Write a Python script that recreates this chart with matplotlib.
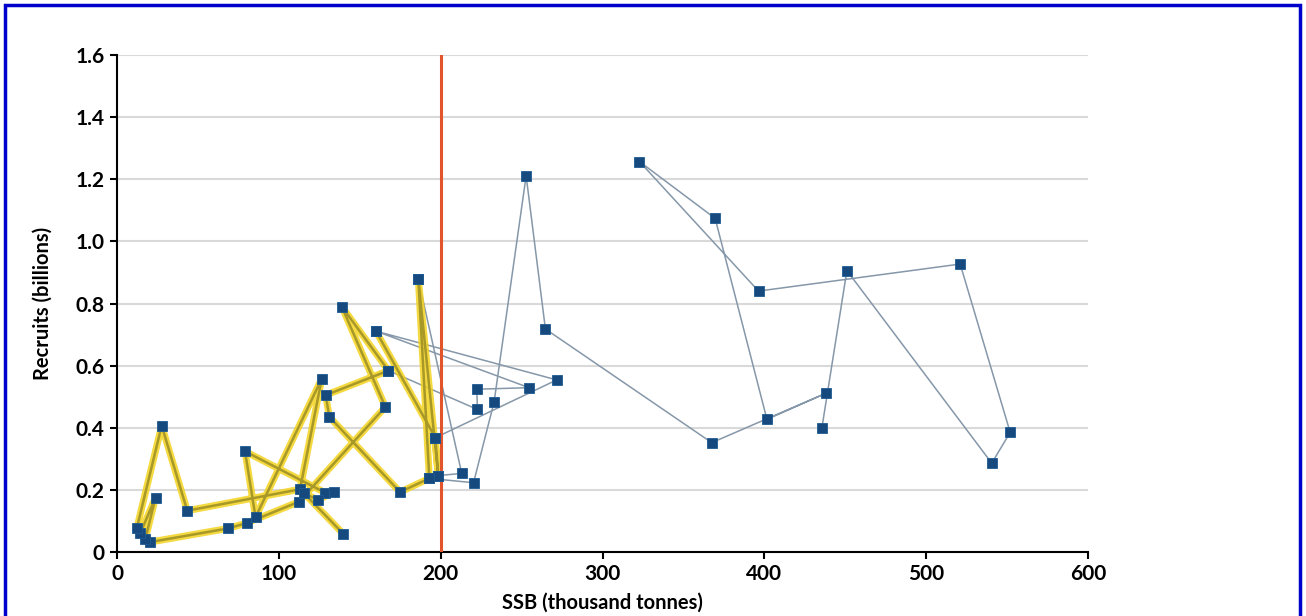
import matplotlib.pyplot as plt
import matplotlib.patheffects as pe
from matplotlib.patches import Rectangle

# early years, thin blue-grey line (three runs)
grey1_ssb = [435.5, 451.0, 540.5, 551.9, 521.0, 396.4, 322.8, 369.6, 401.6, 438.0,
             367.5, 264.7, 252.8, 233.0, 220.3, 193.0]
grey1_rec = [0.398, 0.906, 0.286, 0.385, 0.927, 0.840, 1.257, 1.074, 0.427, 0.511,
             0.352, 0.718, 1.211, 0.483, 0.223, 0.237]
grey2_ssb = [167.7, 222.7, 222.3, 254.6, 160.0, 271.7, 196.7]
grey2_rec = [0.584, 0.459, 0.524, 0.529, 0.711, 0.554, 0.368]
grey3_ssb = [186.2, 213.0, 198.5]
grey3_rec = [0.878, 0.253, 0.246]

# later years, thick yellow line
yellow_ssb = [160.0, 196.7, 198.5, 186.2, 193.0, 174.9, 131.2, 128.9, 167.7, 138.9,
              165.8, 112.5, 80.5, 68.8, 20.5, 17.5, 23.8, 14.5, 12.2, 27.6,
              43.4, 113.1, 126.5, 85.6, 79.1, 128.6, 134.1, 124.4, 115.6, 139.9]
yellow_rec = [0.711, 0.368, 0.246, 0.878, 0.237, 0.193, 0.435, 0.505, 0.584, 0.790,
              0.467, 0.162, 0.094, 0.076, 0.032, 0.042, 0.175, 0.062, 0.076, 0.407,
              0.133, 0.202, 0.558, 0.112, 0.324, 0.191, 0.194, 0.167, 0.189, 0.058]

ref_ssb = 200

plt.rcParams['font.family'] = ['Lato', 'DejaVu Sans']

fig = plt.figure(figsize=(13.06, 6.16), dpi=100)
ax = fig.add_axes([0.0896, 0.1039, 0.7435, 0.8068])

grey = '#8597A8'
for xs, ys in [(grey1_ssb, grey1_rec), (grey2_ssb, grey2_rec), (grey3_ssb, grey3_rec)]:
    ax.plot(xs, ys, color=grey, lw=1.1, zorder=3)

ax.plot(yellow_ssb, yellow_rec, color='#A89828', lw=1.8, zorder=4,
        path_effects=[pe.Stroke(linewidth=5, foreground='#F3D320', alpha=0.85), pe.Normal()])

ax.axvline(ref_ssb, ymin=0, ymax=1, color='#E2552B', lw=2.2, zorder=5)

mk = dict(ls='none', marker='s', ms=7.5, mfc='#164A7E', mec='#1D5A94', mew=0.6, zorder=6)
for xs, ys in [(grey1_ssb, grey1_rec), (grey2_ssb, grey2_rec), (grey3_ssb, grey3_rec),
               (yellow_ssb, yellow_rec)]:
    ax.plot(xs, ys, **mk)

ax.set_xlim(0, 600)
ax.set_ylim(0, 1.6)
ax.set_xticks(range(0, 601, 100))
ax.set_yticks([0, 0.2, 0.4, 0.6, 0.8, 1.0, 1.2, 1.4, 1.6])
ax.set_yticklabels(['0', '0.2', '0.4', '0.6', '0.8', '1.0', '1.2', '1.4', '1.6'])
ax.grid(axis='y', color='#D9D9D9', lw=1.5, zorder=0)
ax.set_axisbelow(True)
for s in ['top', 'right']:
    ax.spines[s].set_visible(False)
for s in ['left', 'bottom']:
    ax.spines[s].set_color('black')
    ax.spines[s].set_linewidth(1.5)
ax.tick_params(axis='both', direction='out', length=5, width=1.5, labelsize=15, pad=4)
for lab in ax.get_xticklabels() + ax.get_yticklabels():
    lab.set_fontweight('bold')
ax.set_xlabel('SSB (thousand tonnes)', fontsize=14.5, fontweight='bold', labelpad=6)
ax.set_ylabel('Recruits (billions)', fontsize=14.5, fontweight='bold', labelpad=16)

fig.patches.append(Rectangle((5 / 1306, -0.05), 1295 / 1306, 1.05 - 5 / 616,
                             transform=fig.transFigure, fill=False,
                             edgecolor='#0000CC', lw=2.5))

fig.savefig('out.png', dpi=100)
